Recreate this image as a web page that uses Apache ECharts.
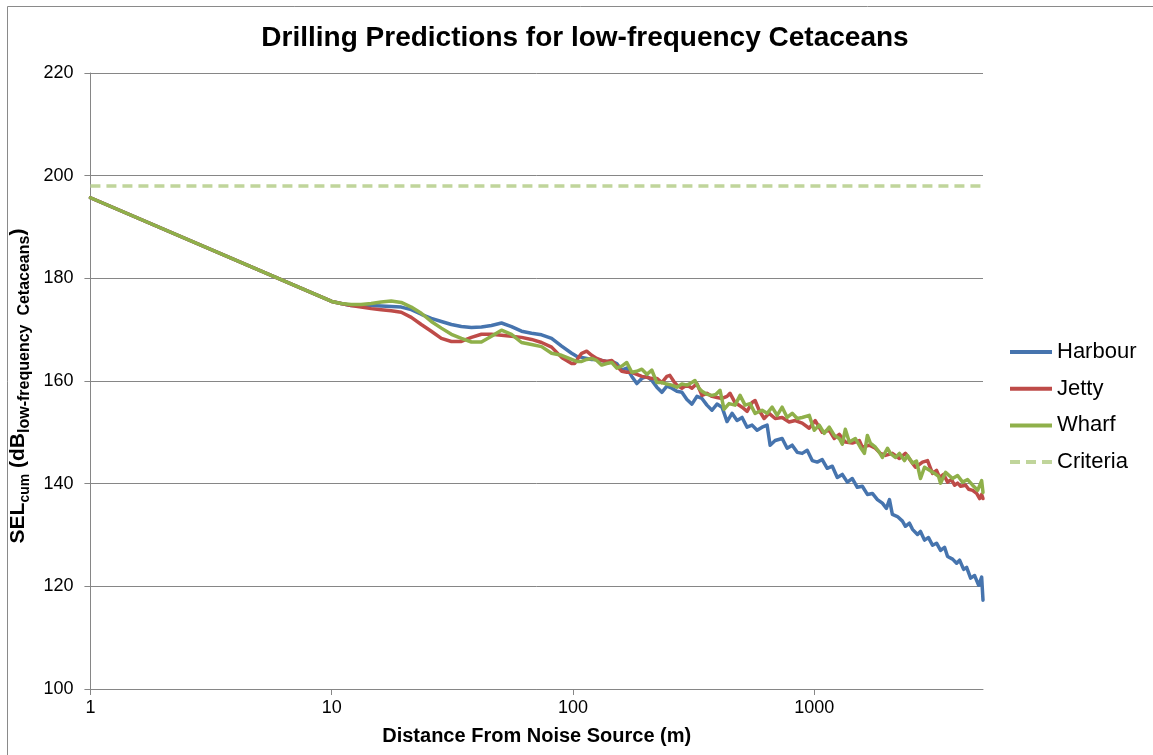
<!DOCTYPE html>
<html><head><meta charset="utf-8">
<script src="https://cdn.jsdelivr.net/npm/echarts@6/dist/echarts.min.js"></script>
<style>html,body{margin:0;padding:0;background:#fff}#c{width:1153px;height:755px}</style>
</head><body><div id="c"></div><script>
// Distance (m) / SEL (dB) pairs
const harbour = [[1,195.7],[10,175.5],[10.93,175.1],[12.03,174.7],[13.23,174.7],[14.57,174.7],[16.03,174.6],[17.64,174.5],[19.41,174.4],[21.36,173.9],[23.5,173.0],[25.86,172.2],[28.46,171.6],[31.32,171.0],[34.45,170.6],[37.92,170.4],[41.72,170.5],[45.91,170.8],[50.52,171.3],[55.58,170.6],[61.16,169.7],[67.3,169.3],[74.06,169.0],[81.49,168.3],[89.68,166.8],[98.67,165.4],[103.5,164.8],[108.6,164.6],[113.9,164.4],[119.5,164.2],[125.3,164.2],[131.5,164.0],[137.9,163.8],[144.7,163.8],[151.8,163.4],[159.2,162.1],[167,162.5],[175.2,160.9],[183.8,159.5],[192.8,160.5],[202.2,160.9],[212.1,160.1],[222.5,158.8],[233.4,157.8],[244.8,159.0],[256.8,158.6],[269.4,158.0],[282.6,157.8],[296.4,156.4],[311,155.5],[326.2,157.0],[342.2,156.6],[358.9,155.3],[376.6,154.3],[395,155.5],[414.4,154.9],[434.7,152.1],[456,153.7],[478.3,152.3],[501.8,152.9],[526.4,151.0],[552.1,151.4],[579.1,150.4],[607.5,151.0],[637.3,151.4],[655.8,147.5],[688,148.4],[735.6,148.8],[771.6,146.9],[809.5,147.5],[849.2,146.1],[890.7,145.9],[934.3,146.5],[980.1,144.5],[1028,144.2],[1078,144.7],[1131,143.0],[1187,143.4],[1245,141.2],[1306,141.8],[1370,140.3],[1437,141.0],[1507,139.3],[1581,139.5],[1659,137.9],[1740,138.1],[1825,136.9],[1914,136.2],[1989,135.2],[2048,136.9],[2106,134.0],[2210,133.6],[2318,132.7],[2385,131.7],[2479,132.3],[2551,131.1],[2676,130.1],[2754,130.7],[2861,129.0],[2973,129.5],[3089,128.0],[3210,128.4],[3335,127.0],[3465,127.6],[3566,125.8],[3740,125.3],[3887,124.5],[4000,125.1],[4156,123.3],[4277,123.7],[4443,121.6],[4616,122.1],[4797,120.2],[4936,121.8],[5000,117.3]];
const jetty = [[1,195.7],[10,175.5],[10.93,175.1],[12.03,174.7],[13.23,174.4],[14.57,174.1],[16.03,173.9],[17.64,173.7],[19.41,173.4],[21.36,172.4],[23.5,171.0],[25.86,169.7],[28.46,168.3],[31.32,167.7],[34.45,167.7],[37.92,168.5],[41.72,169.1],[45.91,169.1],[50.52,168.9],[55.58,168.7],[61.16,168.5],[67.3,168.1],[74.06,167.5],[81.49,166.6],[89.68,164.6],[98.67,163.4],[101.5,163.4],[105.5,164.6],[108.6,165.4],[113.9,165.8],[119.5,165.0],[125.3,164.4],[131.5,164.0],[137.9,163.8],[144.7,164.0],[151.8,162.9],[159.2,161.9],[167,161.7],[175.2,161.7],[183.8,161.3],[192.8,160.9],[202.2,160.7],[212.1,160.5],[222.5,160.5],[233.4,159.7],[244.8,160.9],[251.9,161.1],[261.8,159.9],[269.4,159.2],[282.6,158.6],[296.4,159.2],[311,158.6],[326.2,159.5],[342.2,157.2],[358.9,157.6],[376.6,157.0],[395,156.8],[414.4,156.6],[434.7,157.0],[447.4,157.6],[469.3,155.8],[501.8,154.9],[526.4,154.1],[552.1,155.8],[568.2,156.2],[590.3,154.3],[619.2,152.7],[649.6,153.7],[688,152.7],[735.6,152.9],[786.5,152.0],[833.1,152.3],[890.7,151.8],[952.3,150.8],[1008.6,152.3],[1078,150.0],[1153,150.4],[1210,148.8],[1269,149.6],[1344,148.1],[1437,147.9],[1536,148.4],[1581,147.1],[1691,147.5],[1791,146.9],[1878,145.9],[1970,145.5],[2106,145.9],[2253,144.9],[2385,145.9],[2551,144.0],[2625,143.2],[2807,144.2],[2945,144.5],[3089,142.0],[3210,142.6],[3304,141.2],[3432,141.8],[3566,140.3],[3704,140.8],[3812,139.7],[3924,140.1],[4038,139.5],[4236,139.7],[4359,138.9],[4529,138.7],[4706,138.1],[4843,137.1],[4936,137.9],[5000,137.1]];
const wharf = [[1,195.7],[10,175.5],[10.93,175.1],[12.03,174.9],[13.23,174.9],[14.57,175.1],[16.03,175.4],[17.64,175.6],[19.41,175.3],[21.36,174.4],[23.5,173.2],[25.86,171.6],[28.46,170.3],[31.32,169.1],[34.45,168.3],[37.92,167.6],[41.72,167.6],[45.91,168.7],[50.52,169.9],[55.58,169.1],[61.16,167.5],[67.3,167.1],[74.06,166.7],[81.49,165.4],[89.68,165.0],[98.67,164.2],[103.5,163.8],[108.6,163.8],[113.9,164.2],[119.5,164.4],[125.3,164.0],[131.5,163.1],[137.9,163.4],[144.7,163.6],[151.8,162.5],[159.2,162.9],[167,163.6],[175.2,161.7],[183.8,161.9],[192.8,162.3],[202.2,161.3],[212.1,162.1],[222.5,159.7],[233.4,159.7],[244.8,159.4],[256.8,159.2],[269.4,158.8],[282.6,159.4],[296.4,159.2],[311,159.7],[320.1,160.1],[332.5,158.6],[342.2,158.0],[358.9,157.4],[376.6,157.2],[391.2,157.4],[406.6,158.2],[422.4,154.5],[443.1,155.6],[469.3,155.3],[492.3,157.2],[516.4,155.3],[541.6,155.6],[568.2,153.7],[607.5,154.3],[637.3,153.7],[668.5,154.9],[701.3,153.3],[735.6,154.9],[771.6,152.9],[809.5,153.7],[849.2,152.7],[890.7,152.9],[952.3,153.3],[999,150.4],[1048,151.4],[1099,149.8],[1153,151.0],[1210,149.4],[1269,148.8],[1306,147.7],[1344,150.6],[1396,148.1],[1479,148.8],[1551,147.1],[1612,145.9],[1659,149.4],[1707,147.9],[1791,147.1],[1860,146.1],[1914,145.1],[2009,146.9],[2067,145.9],[2167,145.1],[2253,145.9],[2363,144.5],[2432,145.5],[2551,144.0],[2651,144.4],[2754,141.0],[2861,143.2],[3002,142.6],[3149,142.0],[3272,141.4],[3335,140.1],[3498,142.2],[3740,141.0],[3924,141.6],[4116,140.3],[4318,140.8],[4529,139.7],[4751,138.7],[4936,140.6],[5000,138.3]];
const criteriaLevel = 198;
const criteriaRange = [1, 5000];
const yTicks = [100, 120, 140, 160, 180, 200, 220];
const xTicks = [1, 10, 100, 1000];
const seriesNames = ['Harbour', 'Jetty', 'Wharf', 'Criteria'];

const FONT = "'Liberation Sans', Arial, sans-serif";
const COLORS = {Harbour: '#4674AE', Jetty: '#BE4B48', Wharf: '#8FB04A', Criteria: '#C0D59B'};
const chart = echarts.init(document.getElementById('c'), null, {renderer: 'canvas'});
const lineSeries = (name, data, extra) => Object.assign({
  name, type: 'line', data, symbol: 'none', showSymbol: false, smooth: false,
  lineStyle: {color: COLORS[name], width: 3.5, cap: 'round', join: 'round'},
  itemStyle: {color: COLORS[name]}, emphasis: {disabled: true}
}, extra || {});

chart.setOption({
  animation: false,
  textStyle: {fontFamily: FONT},
  title: {
    text: 'Drilling Predictions for low-frequency Cetaceans',
    left: 580, top: 19, textAlign: 'center',
    textStyle: {fontFamily: FONT, fontSize: 28, fontWeight: 'bold', color: '#000'}
  },
  graphic: [{
    type: 'rect', silent: true, z: -10,
    shape: {x: 7.5, y: 6.5, width: 1160, height: 760},
    style: {fill: null, stroke: '#8a8a8a', lineWidth: 1}
  }],
  grid: {left: 90, right: 170, top: 73, bottom: 66, containLabel: false},
  xAxis: {
    type: 'log', logBase: 10, min: criteriaRange[0], max: criteriaRange[1],
    name: 'Distance From Noise Source (m)', nameLocation: 'middle', nameGap: 37,
    nameTextStyle: {fontFamily: FONT, fontSize: 20, fontWeight: 'bold', color: '#000'},
    axisLine: {show: true, lineStyle: {color: '#868686', width: 1}},
    axisTick: {show: true, length: 6, lineStyle: {color: '#868686'}, customValues: xTicks},
    minorTick: {show: false},
    axisLabel: {fontFamily: FONT, fontSize: 18, color: '#000', margin: 10, customValues: xTicks,
      formatter: v => String(Math.round(v))},
    splitLine: {show: false}
  },
  yAxis: {
    type: 'value', min: yTicks[0], max: yTicks[yTicks.length - 1], interval: 20,
    name: '{m|SEL}{c|cum}{m| (dB}{s|low-frequency  Cetaceans}{m|)}',
    nameLocation: 'middle', nameGap: 53, nameRotate: 90,
    nameTextStyle: {
      fontFamily: FONT, color: '#000', padding: [0, 10, 0, 0],
      rich: {
        m: {fontFamily: FONT, fontSize: 21, fontWeight: 'bold', color: '#000', lineHeight: 28, verticalAlign: 'middle'},
        c: {fontFamily: FONT, fontSize: 14, fontWeight: 'bold', color: '#000', lineHeight: 16, verticalAlign: 'bottom'},
        s: {fontFamily: FONT, fontSize: 16, fontWeight: 'bold', color: '#000', lineHeight: 18, verticalAlign: 'bottom'}
      }
    },
    axisLine: {show: true, lineStyle: {color: '#868686', width: 1}},
    axisTick: {show: true, length: 6, lineStyle: {color: '#868686'}},
    axisLabel: {fontFamily: FONT, fontSize: 18, color: '#000', margin: 17},
    splitLine: {show: true, lineStyle: {color: '#868686', width: 1}}
  },
  legend: {
    orient: 'vertical', left: 1005, top: 336,
    itemWidth: 42, itemHeight: 4, itemGap: 14.7,
    textStyle: {fontFamily: FONT, fontSize: 22, color: '#000'},
    data: seriesNames.map(n => ({
      name: n,
      icon: n === 'Criteria' ? 'path://M0,0h10v4h-10z M16,0h10v4h-10z M32,0h10v4h-10z' : 'rect',
      itemStyle: {color: COLORS[n]}
    }))
  },
  series: [
    lineSeries('Harbour', harbour),
    lineSeries('Jetty', jetty),
    lineSeries('Wharf', wharf),
    lineSeries('Criteria', [[criteriaRange[0], criteriaLevel], [criteriaRange[1], criteriaLevel]],
      {lineStyle: {color: COLORS.Criteria, width: 3.5, type: [10, 6], cap: 'butt'}})
  ]
});
</script></body></html>
